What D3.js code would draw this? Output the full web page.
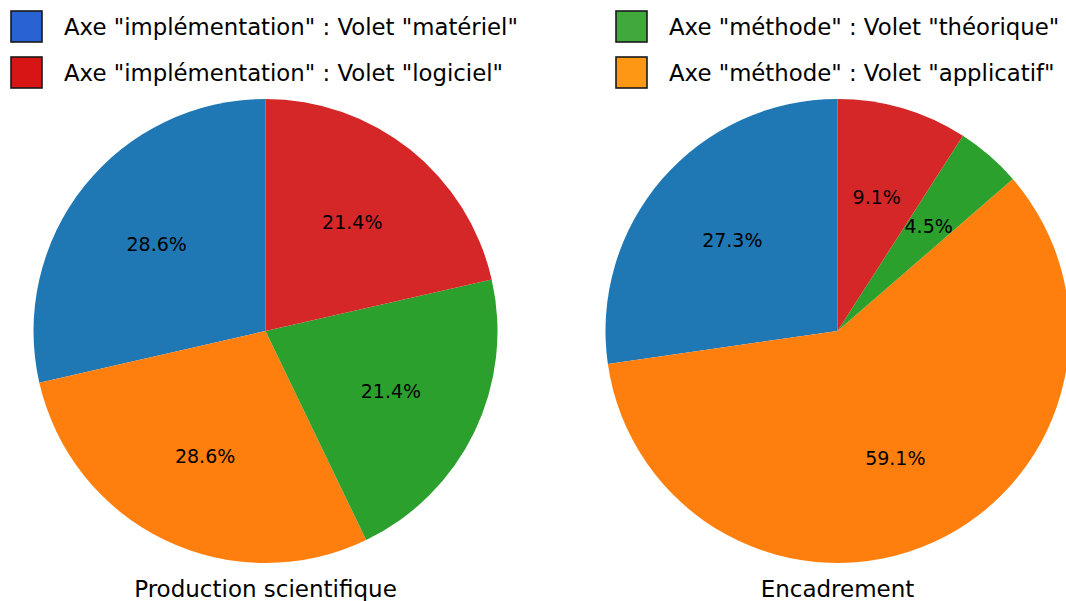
<!DOCTYPE html>
<html>
<head>
<meta charset="utf-8">
<script src="https://cdn.jsdelivr.net/npm/d3@7"></script>
<style>
  html, body { margin: 0; padding: 0; background: #fff; }
  svg { display: block; font-family: "DejaVu Sans", sans-serif; }
</style>
</head>
<body>
<svg id="chart" width="1066" height="601"></svg>
<script>
// Categories (in drawing order, counter-clockwise from 12 o'clock)
const categories = ["impl_materiel", "meth_applicatif", "meth_theorique", "impl_logiciel"];
const sliceColors = ["#1f77b4", "#ff7f0e", "#2ca02c", "#d62728"];

// Counts per panel
const productionValues = [4, 4, 3, 3];
const encadrementValues = [6, 13, 1, 2];
const panelTitles = ["Production scientifique", "Encadrement"];

// Legend entries
const legendLabels = [
  'Axe "implémentation" : Volet "matériel"',
  'Axe "implémentation" : Volet "logiciel"',
  'Axe "méthode" : Volet "théorique"',
  'Axe "méthode" : Volet "applicatif"'
];
const legendColors = ["#2962d2", "#d81515", "#41a83e", "#fe9713"];

const svg = d3.select("#chart");

const radius = 232;
const panels = [
  { cx: 265.5, cy: 331, values: productionValues, title: panelTitles[0] },
  { cx: 837.5, cy: 331, values: encadrementValues, title: panelTitles[1] }
];

const pie = d3.pie().sort(null).value(d => d).startAngle(0).endAngle(-2 * Math.PI);
const arc = d3.arc().innerRadius(0).outerRadius(radius);
const labelArc = d3.arc().innerRadius(radius * 0.6).outerRadius(radius * 0.6);
const color = d3.scaleOrdinal().domain(categories).range(sliceColors);

panels.forEach(p => {
  const total = d3.sum(p.values);
  const arcs = pie(p.values);
  const g = svg.append("g").attr("transform", `translate(${p.cx},${p.cy})`);
  g.selectAll("path.slice")
    .data(arcs)
    .join("path")
    .attr("class", "slice")
    .attr("d", arc)
    .attr("fill", (d, i) => color(categories[i]));
  g.selectAll("text.pct")
    .data(arcs)
    .join("text")
    .attr("class", "pct")
    .attr("transform", d => `translate(${labelArc.centroid(d)})`)
    .attr("text-anchor", "middle")
    .attr("dominant-baseline", "central")
    .attr("font-size", 19)
    .attr("fill", "#000")
    .text(d => (d.value / total * 100).toFixed(1) + "%");
  svg.append("text")
    .attr("x", p.cx)
    .attr("y", 597)
    .attr("text-anchor", "middle")
    .attr("font-size", 23)
    .attr("fill", "#000")
    .text(p.title);
});

// Legend: two columns of two rows
const legendPos = [
  { x: 11, y: 11 }, { x: 11, y: 57 },
  { x: 616, y: 11 }, { x: 616, y: 57 }
];
const lg = svg.append("g");
legendLabels.forEach((lab, i) => {
  const pos = legendPos[i];
  lg.append("rect")
    .attr("x", pos.x).attr("y", pos.y)
    .attr("width", 31).attr("height", 31)
    .attr("fill", legendColors[i])
    .attr("stroke", "#1a1a1a").attr("stroke-width", 1.6);
  lg.append("text")
    .attr("x", pos.x + 53)
    .attr("y", pos.y + 16)
    .attr("dominant-baseline", "central")
    .attr("font-size", 22.8)
    .attr("fill", "#000")
    .text(lab);
});
</script>
</body>
</html>
